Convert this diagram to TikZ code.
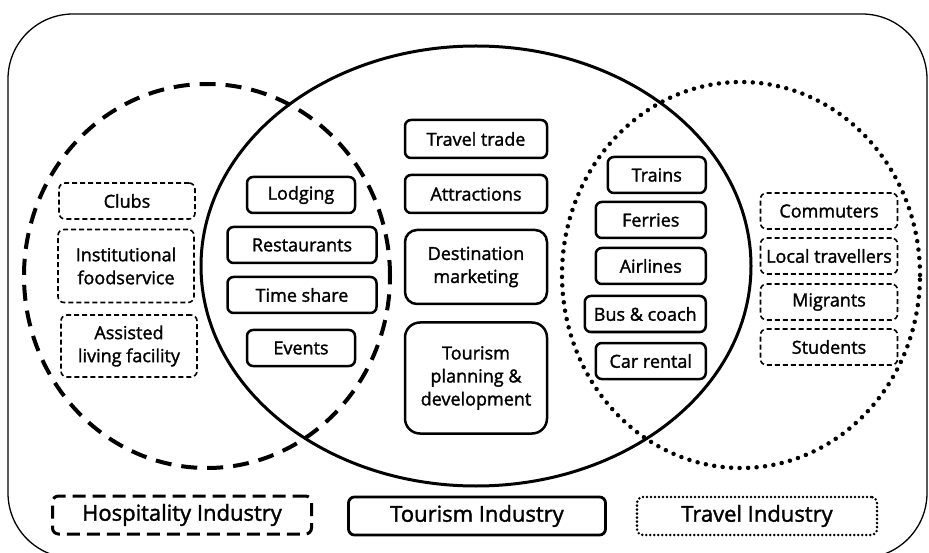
\documentclass[tikz,border=0pt]{standalone}
\usepackage{fontspec}
\setmainfont{Open Sans}[FakeBold=1.6]

\begin{document}
\begin{tikzpicture}[x=1pt,y=-1pt,
    box/.style={draw, line width=2.5pt, rounded corners=6pt, align=center, inner sep=1pt,
      minimum height=36pt, font=\fontsize{18}{23}\selectfont},
    dbox/.style={box, line width=1.6pt, dash pattern=on 5pt off 3pt},
    legend/.style={draw, rounded corners=6pt, minimum height=38pt, inner sep=1pt,
      font=\fontsize{22}{24}\selectfont}]
    \useasboundingbox (0,0) rectangle (929,553);
    % 绘制外框
    \draw[line width=1.3pt, rounded corners=65pt] (8,14) rectangle (927,558);
    % 绘制三个圆
    \draw[line width=3pt] (476,266) ellipse [x radius=275pt, y radius=220pt];
    \draw[line width=4pt, dash pattern=on 16pt off 10pt] (207,276) ellipse [x radius=183pt, y radius=192pt];
    \draw[line width=4.5pt, line cap=round, dash pattern=on 0pt off 8.5pt] (741,275) ellipse [x radius=179pt, y radius=193pt];
    % 左侧
    \node[dbox, minimum width=136pt] (clubs) at (127,201) {Clubs};
    \node[dbox, minimum width=136pt, minimum height=73pt] (inst) at (126,266) {Institutional\\foodservice};
    \node[dbox, minimum width=136pt, minimum height=62pt] (assist) at (129,346) {Assisted\\living facility};
    \node[box, minimum width=108pt] (lodging) at (301,195) {Lodging};
    \node[box, minimum width=149pt] (rest) at (302,245) {Restaurants};
    \node[box, minimum width=149pt] (share) at (302,295) {Time share};
    \node[box, minimum width=108pt] (events) at (301,348) {Events};
    % 中间
    \node[box, minimum width=142pt, minimum height=38pt] (trade) at (476,139) {Travel trade};
    \node[box, minimum width=142pt, minimum height=38pt] (attract) at (476,194) {Attractions};
    \node[box, minimum width=142pt, minimum height=74pt, rounded corners=12pt] (dest) at (476,267) {Destination\\marketing};
    \node[box, minimum width=142pt, minimum height=111pt, rounded corners=15pt] (plan) at (476,378) {Tourism\\planning \&\\development};
    % 右侧
    \node[box, minimum width=98pt, anchor=east] (trains) at (707,175) {Trains};
    \node[box, minimum width=110pt, anchor=east] (ferries) at (707,220) {Ferries};
    \node[box, minimum width=110pt, anchor=east] (airlines) at (707,266) {Airlines};
    \node[box, minimum width=121pt, anchor=east] (bus) at (707,314) {Bus \& coach};
    \node[box, minimum width=110pt, anchor=east] (car) at (707,361) {Car rental};
    \node[dbox, minimum width=137pt] (commuters) at (829,211) {Commuters};
    \node[dbox, minimum width=137pt] (local) at (829,256) {Local travellers};
    \node[dbox, minimum width=137pt] (migrants) at (829,302) {Migrants};
    \node[dbox, minimum width=137pt] (students) at (829,347) {Students};
    % 图例
    \node[legend, minimum width=259pt, line width=3pt, dash pattern=on 13pt off 7pt] (hosp) at (182,515) {Hospitality Industry};
    \node[legend, minimum width=257pt, line width=2.8pt] (tour) at (477,516) {Tourism Industry};
    \node[legend, minimum width=240pt, line width=2.8pt, line cap=round, dash pattern=on 0pt off 4pt] (travel) at (757,516) {Travel Industry};
\end{tikzpicture}
\end{document}
